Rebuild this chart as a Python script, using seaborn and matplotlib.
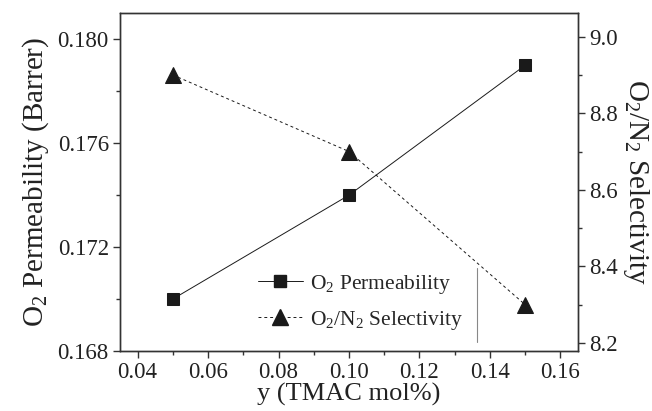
import matplotlib
matplotlib.use("Agg")
import matplotlib.pyplot as plt
import seaborn as sns
import pandas as pd
from matplotlib.ticker import MultipleLocator
from matplotlib.lines import Line2D

# Data
y_mol = [0.05, 0.10, 0.15]
o2_perm = [0.170, 0.174, 0.179]
selectivity = [8.9, 8.7, 8.3]

sns.set_theme(style="ticks")
plt.rcParams['font.family'] = ['Liberation Serif', 'DejaVu Serif']
plt.rcParams['mathtext.fontset'] = 'custom'
plt.rcParams['mathtext.rm'] = 'Liberation Serif'
plt.rcParams['mathtext.it'] = 'Liberation Serif:italic'

df = pd.DataFrame({"y": y_mol, "perm": o2_perm, "sel": selectivity})

fig = plt.figure(figsize=(6.52, 4.11), dpi=100)
ax = fig.add_axes([0.184, 0.146, 0.7025, 0.8216])
ax2 = ax.twinx()

ink = "#1a1a1a"
sns.lineplot(data=df, x="y", y="perm", ax=ax, color=ink, linewidth=0.7,
             marker="s", markersize=9, markeredgecolor=ink, markerfacecolor=ink,
             legend=False)
sns.lineplot(data=df, x="y", y="sel", ax=ax2, color=ink, linewidth=0.7,
             linestyle=(0, (3, 3)), marker="^", markersize=11,
             markeredgecolor=ink, markerfacecolor=ink, legend=False)

ax.set_xlim(0.035, 0.165)
ax.set_ylim(0.168, 0.181)
ax2.set_ylim(8.179, 9.061)

ax.xaxis.set_minor_locator(MultipleLocator(0.01))
ax.yaxis.set_minor_locator(MultipleLocator(0.002))
ax2.yaxis.set_minor_locator(MultipleLocator(0.1))

ax.set_xticks([0.04, 0.06, 0.08, 0.10, 0.12, 0.14, 0.16])
ax.set_xticklabels(["0.04", "0.06", "0.08", "0.10", "0.12", "0.14", "0.16"])
ax.set_yticks([0.168, 0.172, 0.176, 0.180])
ax.set_yticklabels(["0.168", "0.172", "0.176", "0.180"])
ax2.set_yticks([8.2, 8.4, 8.6, 8.8, 9.0])
ax2.set_yticklabels(["8.2", "8.4", "8.6", "8.8", "9.0"])

spine_c = "#333333"
for a in (ax, ax2):
    for s in a.spines.values():
        s.set_color(spine_c)
        s.set_linewidth(1.0)
    a.tick_params(which="major", direction="out", length=5, width=1.0,
                  color=spine_c, labelsize=16.5, labelcolor="#222222", pad=3)
    a.tick_params(which="minor", direction="out", length=3, width=1.0,
                  color=spine_c)
    a.grid(False)

ax.set_xlabel("y (TMAC mol%)", fontsize=19, color="#222222", labelpad=0)
ax.set_ylabel(r"O$_2$ Permeability (Barrer)", fontsize=21, color="#222222", labelpad=5)
ax2.set_ylabel(r"O$_2$/N$_2$ Selectivity", fontsize=21, color="#222222",
               rotation=270, labelpad=24)

handles = [
    Line2D([0], [0], color=ink, lw=0.7, marker="s", markersize=9,
           markerfacecolor=ink, markeredgecolor=ink),
    Line2D([0], [0], color=ink, lw=0.7, linestyle=(0, (3, 3)), marker="^",
           markersize=11, markerfacecolor=ink, markeredgecolor=ink),
]
labels = [r"O$_2$ Permeability", r"O$_2$/N$_2$ Selectivity"]
ax.legend(handles, labels, loc="lower left", bbox_to_anchor=(0.258, 0.0),
          frameon=False, fontsize=15.5, handlelength=2.1, handletextpad=0.35,
          labelspacing=0.6)

# partial legend frame edge visible in the reference
ax.add_line(Line2D([0.779, 0.779], [0.027, 0.246], transform=ax.transAxes,
                   color="#888888", lw=0.8))

fig.savefig("out.png", dpi=100)
